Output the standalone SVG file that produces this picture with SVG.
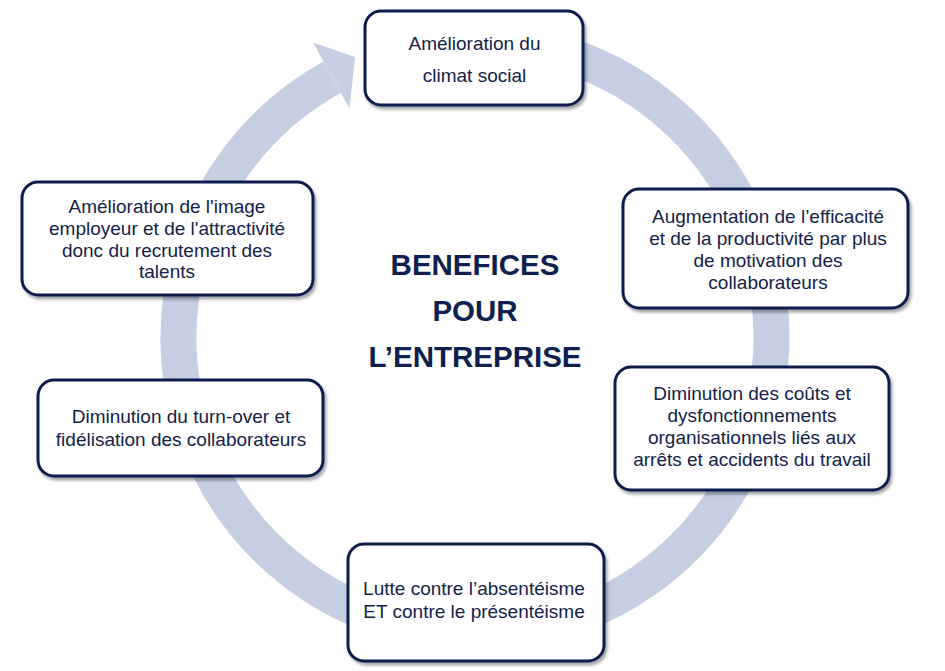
<svg xmlns="http://www.w3.org/2000/svg" width="945" height="671" viewBox="0 0 945 671">
<defs>
<filter id="sh" x="-10%" y="-10%" width="125%" height="130%">
<feDropShadow dx="2" dy="3" stdDeviation="1.8" flood-color="#000" flood-opacity="0.35"/>
</filter>
</defs>
<style>
.box{fill:#fff;stroke:#0d1f4e;stroke-width:3;filter:url(#sh)}
.t{font-family:"Liberation Sans",Arial,sans-serif;font-size:19px;fill:#14224a;text-anchor:middle}
.title{font-family:"Liberation Sans",Arial,sans-serif;font-size:29.5px;font-weight:bold;fill:#0f1f4f;text-anchor:middle}
</style>
<rect width="945" height="671" fill="#fff"/>
<g id="connectors">
<path d="M551.7,50.6 A296.5,296.5 0 1 1 332.1,77.2" fill="none" stroke="#c6cee2" stroke-width="36"/>
<polygon points="313,42.5 355,57 349.5,108.5" fill="#c6cee2"/>
</g>
<g id="title">
<text class="title" x="475" y="275">BENEFICES</text>
<text class="title" x="475" y="321">POUR</text>
<text class="title" x="475" y="367">L’ENTREPRISE</text>
</g>
<g id="n1">
<rect class="box" x="365" y="11" width="218" height="94" rx="16"/>
<text class="t" x="474.5" y="50">Amélioration du</text>
<text class="t" x="474.5" y="82">climat social</text>
</g>
<g id="n2">
<rect class="box" x="623" y="189" width="285" height="119" rx="16"/>
<text class="t" x="768" y="223">Augmentation de l’efficacité</text>
<text class="t" x="768" y="245">et de la productivité par plus</text>
<text class="t" x="768" y="267">de motivation des</text>
<text class="t" x="768" y="289">collaborateurs</text>
</g>
<g id="n3">
<rect class="box" x="615" y="367" width="274" height="123" rx="16"/>
<text class="t" x="752" y="400">Diminution des coûts et</text>
<text class="t" x="752" y="422">dysfonctionnements</text>
<text class="t" x="752" y="444">organisationnels liés aux</text>
<text class="t" x="752" y="466">arrêts et accidents du travail</text>
</g>
<g id="n4">
<rect class="box" x="348" y="544" width="256" height="117" rx="16"/>
<text class="t" x="474" y="595">Lutte contre l’absentéisme</text>
<text class="t" x="474" y="618">ET contre le présentéisme</text>
</g>
<g id="n5">
<rect class="box" x="38" y="380" width="285" height="96" rx="16"/>
<text class="t" x="181" y="423">Diminution du turn-over et</text>
<text class="t" x="181" y="446">fidélisation des collaborateurs</text>
</g>
<g id="n6">
<rect class="box" x="22" y="182" width="291" height="113" rx="16"/>
<text class="t" x="167" y="213">Amélioration de l'image</text>
<text class="t" x="167" y="235">employeur et de l'attractivité</text>
<text class="t" x="167" y="257">donc du recrutement des</text>
<text class="t" x="167" y="278">talents</text>
</g>
</svg>
